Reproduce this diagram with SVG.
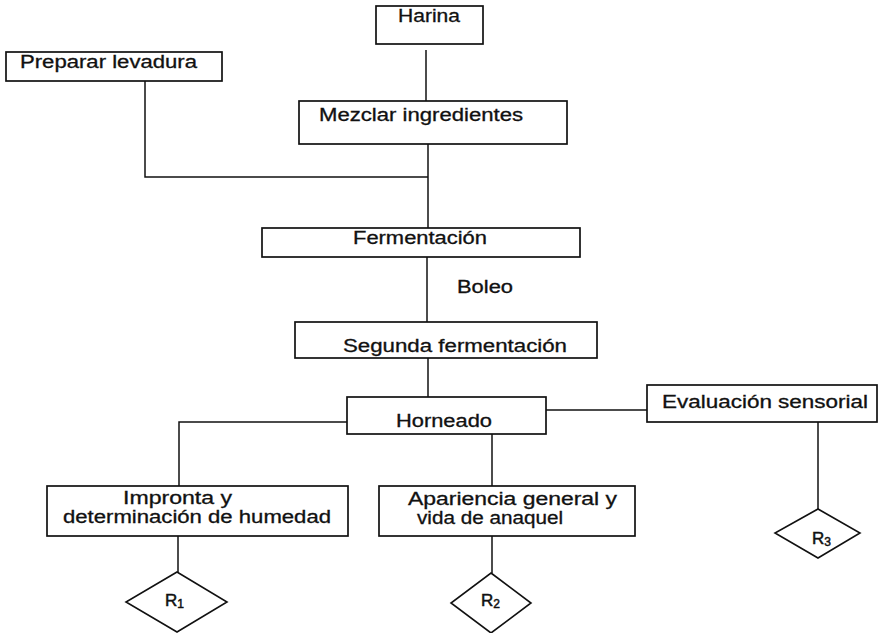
<svg xmlns="http://www.w3.org/2000/svg" width="887" height="633" viewBox="0 0 887 633">
  <style>
    .box { fill: #fff; stroke: #111; stroke-width: 1.7; }
    .dia { fill: #fff; stroke: #111; stroke-width: 1.6; stroke-linejoin: miter; }
    .lbl { font-family: "Liberation Sans", Arial, sans-serif; font-size: 17.5px; fill: #111; stroke: #111; stroke-width: 0.3; }
    .rl { font-family: "Liberation Sans", Arial, sans-serif; font-size: 17px; fill: #111; stroke: #111; stroke-width: 0.5; }
    .sub { font-size: 12px; }
    #connectors path { fill: none; stroke: #111; stroke-width: 1.5; }
  </style>
  <rect width="887" height="633" fill="#fff"/>

  <!-- connectors -->
  <g id="connectors">
    <path d="M426,50 V101"/>
    <path d="M428,144 V228"/>
    <path d="M145,80 V177 H428"/>
    <path d="M427,257 V322"/>
    <path d="M428,358 V397"/>
    <path d="M347,422 H179 V486"/>
    <path d="M546,410 H647"/>
    <path d="M492,430 V486"/>
    <path d="M178,536 V572"/>
    <path d="M492,536 V573"/>
    <path d="M818,422 V509"/>
  </g>

  <!-- process steps -->
  <g id="harina">
    <rect class="box" x="376" y="6" width="107" height="38"/>
    <text class="lbl" x="398" y="22" textLength="62" lengthAdjust="spacingAndGlyphs">Harina</text>
  </g>
  <g id="preparar-levadura">
    <rect class="box" x="6" y="52" width="216" height="29"/>
    <text class="lbl" x="20" y="68" textLength="177" lengthAdjust="spacingAndGlyphs">Preparar levadura</text>
  </g>
  <g id="mezclar">
    <rect class="box" x="299" y="101" width="268" height="43"/>
    <text class="lbl" x="319" y="121" textLength="204" lengthAdjust="spacingAndGlyphs">Mezclar ingredientes</text>
  </g>
  <g id="fermentacion">
    <rect class="box" x="262" y="228" width="318" height="29"/>
    <text class="lbl" x="353" y="244" textLength="134" lengthAdjust="spacingAndGlyphs">Fermentación</text>
  </g>
  <g id="boleo">
    <text class="lbl" x="457" y="293" textLength="56" lengthAdjust="spacingAndGlyphs">Boleo</text>
  </g>
  <g id="segunda-fermentacion">
    <rect class="box" x="295" y="322" width="302" height="36"/>
    <text class="lbl" x="343" y="352" textLength="224" lengthAdjust="spacingAndGlyphs">Segunda fermentación</text>
  </g>
  <g id="horneado">
    <rect class="box" x="347" y="397" width="199" height="37"/>
    <text class="lbl" x="396" y="427" textLength="96" lengthAdjust="spacingAndGlyphs">Horneado</text>
  </g>
  <g id="evaluacion-sensorial">
    <rect class="box" x="647" y="385" width="230" height="37"/>
    <text class="lbl" x="662" y="408" textLength="206" lengthAdjust="spacingAndGlyphs">Evaluación sensorial</text>
  </g>
  <g id="impronta">
    <rect class="box" x="47" y="486" width="301" height="50"/>
    <text class="lbl" x="123" y="504" textLength="109" lengthAdjust="spacingAndGlyphs">Impronta  y</text>
    <text class="lbl" x="63" y="523" textLength="268" lengthAdjust="spacingAndGlyphs">determinación de humedad</text>
  </g>
  <g id="apariencia">
    <rect class="box" x="379" y="486" width="256" height="50"/>
    <text class="lbl" x="408" y="505" textLength="209" lengthAdjust="spacingAndGlyphs">Apariencia general  y</text>
    <text class="lbl" x="417" y="524" textLength="146" lengthAdjust="spacingAndGlyphs">vida de anaquel</text>
  </g>

  <!-- results -->
  <g id="r1">
    <polygon class="dia" points="177,572 227,602 177,632 126,602"/>
    <text class="rl" x="165" y="606">R<tspan class="sub" dy="2">1</tspan></text>
  </g>
  <g id="r2">
    <polygon class="dia" points="491,573 531,603 491,633 451,603"/>
    <text class="rl" x="481" y="606">R<tspan class="sub" dy="2">2</tspan></text>
  </g>
  <g id="r3">
    <polygon class="dia" points="818,509 860,533 818,558 775,533"/>
    <text class="rl" x="812" y="544">R<tspan class="sub" dy="2">3</tspan></text>
  </g>
</svg>
